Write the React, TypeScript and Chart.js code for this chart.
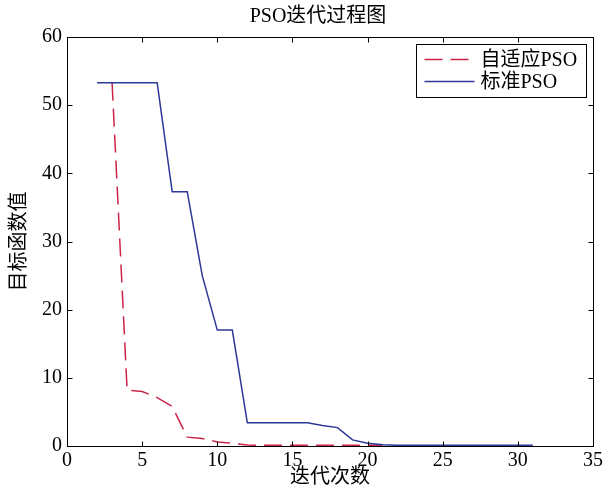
import React, { useEffect, useRef } from 'react';
import { Chart, registerables } from 'chart.js';

Chart.register(...registerables);

const TITLE = 'PSO迭代过程图';
const X_TITLE = '迭代次数';
const Y_TITLE = '目标函数值';
const SERIES_NAMES = ['自适应PSO', '标准PSO'];
const SERIES_COLORS = ['#cc2448', '#2b3896'];

// 自适应PSO (dashed red)
const ADAPTIVE_X = [3, 4, 5, 6, 7, 8, 9, 10, 11, 12, 13, 14, 15, 16, 17, 18, 19, 20, 21];
const ADAPTIVE_Y = [53.3, 8.2, 8.0, 7.1, 5.8, 1.3, 1.1, 0.6, 0.4, 0.15, 0.1, 0.1, 0.1, 0.1, 0.1, 0.1, 0.1, 0.1, 0.1];

// 标准PSO (solid blue)
const STANDARD_X = [2, 3, 4, 5, 6, 7, 8, 9, 10, 11, 12, 13, 14, 15, 16, 17, 18, 19, 20, 21, 22, 23, 24, 25, 26, 27, 28, 29, 30, 31];
const STANDARD_Y = [53.3, 53.3, 53.3, 53.3, 53.3, 37.3, 37.3, 25.0, 17.0, 17.0, 3.4, 3.4, 3.4, 3.4, 3.4, 3.0, 2.7, 0.9, 0.4, 0.2, 0.1, 0.1, 0.1, 0.1, 0.1, 0.1, 0.1, 0.1, 0.1, 0.1];

const X_MIN = 0;
const X_MAX = 35;
const X_STEP = 5;
const Y_MIN = 0;
const Y_MAX = 60;
const Y_STEP = 10;

const FONT_FAMILY = '"Liberation Serif", "Noto Sans CJK SC", serif';

const framePlugin = {
  id: 'matlabFrame',
  afterDatasetsDraw(chart: any) {
    const { ctx, chartArea: a, scales } = chart;
    const L = Math.round(a.left) + 0.5;
    const R = Math.round(a.right) + 0.5;
    const T = Math.round(a.top) + 0.5;
    const B = Math.round(a.bottom) + 0.5;
    ctx.save();
    ctx.strokeStyle = '#000';
    ctx.lineWidth = 1;
    ctx.setLineDash([]);
    ctx.strokeRect(L, T, R - L, B - T);
    const tl = 5;
    ctx.beginPath();
    scales.x.ticks.forEach((t: any) => {
      const px = Math.round(scales.x.getPixelForValue(t.value)) + 0.5;
      ctx.moveTo(px, B);
      ctx.lineTo(px, B - tl);
      ctx.moveTo(px, T);
      ctx.lineTo(px, T + tl);
    });
    scales.y.ticks.forEach((t: any) => {
      const py = Math.round(scales.y.getPixelForValue(t.value)) + 0.5;
      ctx.moveTo(L, py);
      ctx.lineTo(L + tl, py);
      ctx.moveTo(R, py);
      ctx.lineTo(R - tl, py);
    });
    ctx.stroke();

    // title
    ctx.font = `20px ${FONT_FAMILY}`;
    ctx.fillStyle = '#000';
    ctx.textAlign = 'center';
    ctx.textBaseline = 'middle';
    ctx.fillText(TITLE, (a.left + a.right) / 2 - 12, 17);

    // legend box
    const w = 170;
    const h = 53;
    const x0 = Math.round(R - 178) + 0.5;
    const y0 = Math.round(T + 6) + 0.5;
    ctx.fillStyle = '#fff';
    ctx.fillRect(x0, y0, w, h);
    ctx.strokeStyle = '#000';
    ctx.strokeRect(x0, y0, w, h);
    ctx.font = `20px ${FONT_FAMILY}`;
    ctx.textBaseline = 'middle';
    ctx.textAlign = 'left';
    chart.data.datasets.forEach((ds: any, i: number) => {
      const cy = y0 + 15 + i * 22;
      ctx.strokeStyle = ds.borderColor;
      ctx.lineWidth = 1.5;
      ctx.setLineDash(ds.borderDash || []);
      ctx.beginPath();
      ctx.moveTo(x0 + 8, cy);
      ctx.lineTo(x0 + 58, cy);
      ctx.stroke();
      ctx.setLineDash([]);
      ctx.fillStyle = '#000';
      ctx.fillText(ds.label, x0 + 64, cy + 1);
    });
    ctx.restore();
  },
};

export default function App() {
  const canvasRef = useRef<HTMLCanvasElement | null>(null);

  useEffect(() => {
    if (!canvasRef.current) return;
    const adaptive = ADAPTIVE_X.map((x, i) => ({ x, y: ADAPTIVE_Y[i] }));
    const standard = STANDARD_X.map((x, i) => ({ x, y: STANDARD_Y[i] }));
    const chart = new Chart(canvasRef.current, {
      type: 'scatter',
      data: {
        datasets: [
          {
            label: SERIES_NAMES[0],
            data: adaptive,
            showLine: true,
            borderColor: SERIES_COLORS[0],
            backgroundColor: SERIES_COLORS[0],
            borderWidth: 1.5,
            borderDash: [18, 8],
            pointRadius: 0,
            tension: 0,
            order: 2,
          },
          {
            label: SERIES_NAMES[1],
            data: standard,
            showLine: true,
            borderColor: SERIES_COLORS[1],
            backgroundColor: SERIES_COLORS[1],
            borderWidth: 1.5,
            pointRadius: 0,
            tension: 0,
            order: 1,
          },
        ],
      },
      options: {
        animation: false,
        responsive: false,
        maintainAspectRatio: false,
        layout: { padding: { left: 0, right: 14, top: 37, bottom: 0 } },
        plugins: {
          legend: { display: false },
          tooltip: { enabled: false },
          title: { display: false },
        },
        scales: {
          x: {
            type: 'linear',
            min: X_MIN,
            max: X_MAX,
            grid: { display: false, drawTicks: false, tickLength: 0 },
            border: { display: false },
            ticks: {
              stepSize: X_STEP,
              color: '#000',
              padding: 3,
              maxRotation: 0,
              font: { family: FONT_FAMILY, size: 20 },
            },
            title: {
              display: true,
              text: X_TITLE,
              color: '#000',
              font: { family: FONT_FAMILY, size: 20 },
              padding: { top: 0, bottom: 1 },
            },
            afterFit: (s: any) => {
              s.height = 45;
            },
          },
          y: {
            type: 'linear',
            min: Y_MIN,
            max: Y_MAX,
            grid: { display: false, drawTicks: false, tickLength: 0 },
            border: { display: false },
            ticks: {
              stepSize: Y_STEP,
              color: '#000',
              padding: 5,
              font: { family: FONT_FAMILY, size: 20 },
            },
            title: {
              display: true,
              text: Y_TITLE,
              color: '#000',
              font: { family: FONT_FAMILY, size: 20 },
              padding: { top: 8, bottom: 0 },
            },
            afterFit: (s: any) => {
              s.width = 67;
            },
          },
        },
      },
      plugins: [framePlugin],
    });
    return () => chart.destroy();
  }, []);

  return (
    <div style={{ position: 'absolute', left: 0, top: 0, width: 607, height: 491, background: '#fff' }}>
      <canvas ref={canvasRef} width={607} height={491} />
    </div>
  );
}
